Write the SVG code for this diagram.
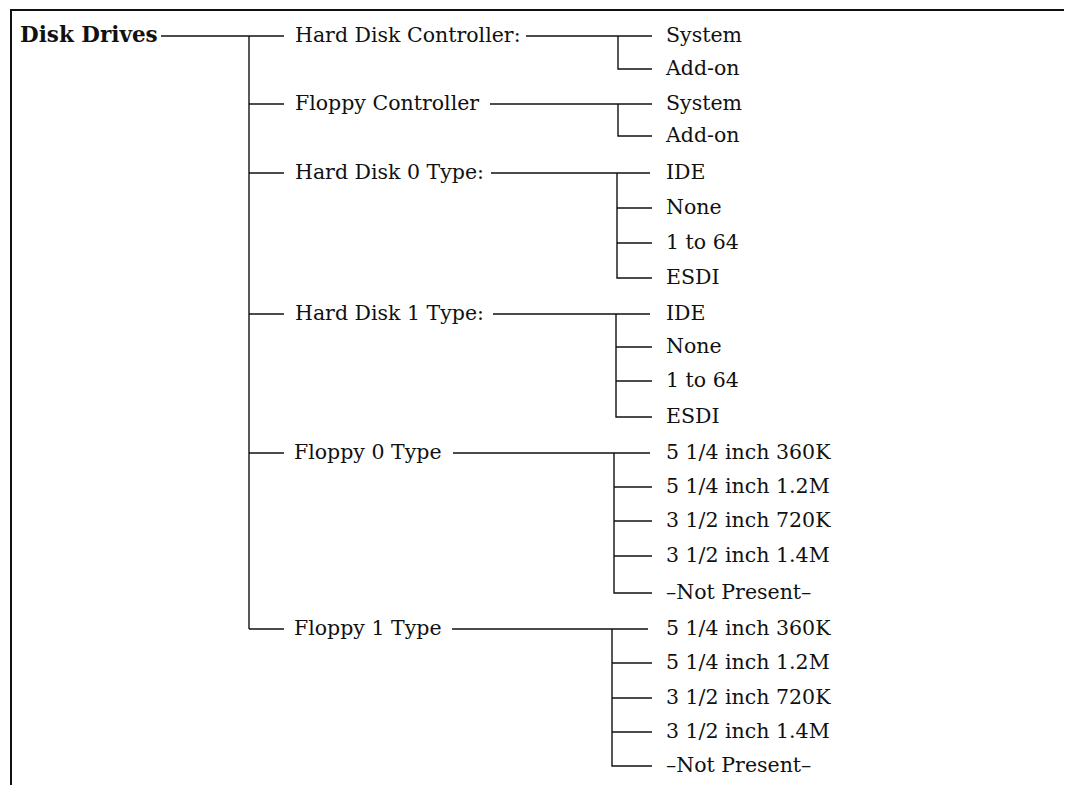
<svg xmlns="http://www.w3.org/2000/svg" width="1067" height="785" viewBox="0 0 1067 785">
<style>
text{font-family:"DejaVu Serif","Liberation Serif",serif;font-size:20.5px;fill:#111}
.root{font-weight:bold;font-size:21.5px}
.c line,.c path{stroke:#111;stroke-width:1.4;fill:none}
.frame{stroke:#111;stroke-width:2;fill:none}
</style>
<rect width="1067" height="785" fill="#fff"/>
<path class="frame" d="M11,785 V10 H1064"/>
<g class="c" id="connectors">
<line x1="161" y1="36" x2="284" y2="36"/>
<line x1="249" y1="36" x2="249" y2="629"/>
<line x1="249" y1="104" x2="284" y2="104"/>
<line x1="249" y1="173" x2="284" y2="173"/>
<line x1="249" y1="314" x2="284" y2="314"/>
<line x1="249" y1="453" x2="284" y2="453"/>
<path d="M249,629 H284"/>
<line x1="526" y1="36" x2="652" y2="36"/>
<path d="M618,36 V69 H652"/>
<line x1="490" y1="104" x2="652" y2="104"/>
<path d="M618,104 V136 H652"/>
<line x1="491" y1="173" x2="650" y2="173"/>
<path d="M617,173 V278 H652"/>
<line x1="617" y1="208" x2="652" y2="208"/>
<line x1="617" y1="243" x2="652" y2="243"/>
<line x1="493" y1="314" x2="650" y2="314"/>
<path d="M616,314 V417 H652"/>
<line x1="616" y1="347" x2="652" y2="347"/>
<line x1="616" y1="381" x2="652" y2="381"/>
<line x1="453" y1="453" x2="650" y2="453"/>
<path d="M614,453 V593 H652"/>
<line x1="614" y1="487" x2="652" y2="487"/>
<line x1="614" y1="521" x2="652" y2="521"/>
<line x1="614" y1="556" x2="652" y2="556"/>
<line x1="452" y1="629" x2="648" y2="629"/>
<path d="M612,629 V766 H652"/>
<line x1="612" y1="663" x2="652" y2="663"/>
<line x1="612" y1="698" x2="652" y2="698"/>
<line x1="612" y1="732" x2="652" y2="732"/>
</g>
<g id="disk-drives"><text class="root" x="20" y="42">Disk Drives</text></g>
<g id="hdc"><text x="295" y="42">Hard Disk Controller:</text></g>
<g id="hdc-system"><text x="666" y="42">System</text></g>
<g id="hdc-addon"><text x="666" y="75">Add-on</text></g>
<g id="fc"><text x="295" y="110">Floppy Controller</text></g>
<g id="fc-system"><text x="666" y="110">System</text></g>
<g id="fc-addon"><text x="666" y="142">Add-on</text></g>
<g id="hd0"><text x="295" y="179">Hard Disk 0 Type:</text></g>
<g id="hd0-ide"><text x="666" y="179">IDE</text></g>
<g id="hd0-none"><text x="666" y="214">None</text></g>
<g id="hd0-164"><text x="666" y="249">1 to 64</text></g>
<g id="hd0-esdi"><text x="666" y="284">ESDI</text></g>
<g id="hd1"><text x="295" y="320">Hard Disk 1 Type:</text></g>
<g id="hd1-ide"><text x="666" y="320">IDE</text></g>
<g id="hd1-none"><text x="666" y="353">None</text></g>
<g id="hd1-164"><text x="666" y="387">1 to 64</text></g>
<g id="hd1-esdi"><text x="666" y="423">ESDI</text></g>
<g id="f0"><text x="294" y="459">Floppy 0 Type</text></g>
<g id="f0-a"><text x="666" y="459">5 1/4 inch 360K</text></g>
<g id="f0-b"><text x="666" y="493">5 1/4 inch 1.2M</text></g>
<g id="f0-c"><text x="666" y="527">3 1/2 inch 720K</text></g>
<g id="f0-d"><text x="666" y="562">3 1/2 inch 1.4M</text></g>
<g id="f0-e"><text x="666" y="599">–Not Present–</text></g>
<g id="f1"><text x="294" y="635">Floppy 1 Type</text></g>
<g id="f1-a"><text x="666" y="635">5 1/4 inch 360K</text></g>
<g id="f1-b"><text x="666" y="669">5 1/4 inch 1.2M</text></g>
<g id="f1-c"><text x="666" y="704">3 1/2 inch 720K</text></g>
<g id="f1-d"><text x="666" y="738">3 1/2 inch 1.4M</text></g>
<g id="f1-e"><text x="666" y="772">–Not Present–</text></g>
</svg>
